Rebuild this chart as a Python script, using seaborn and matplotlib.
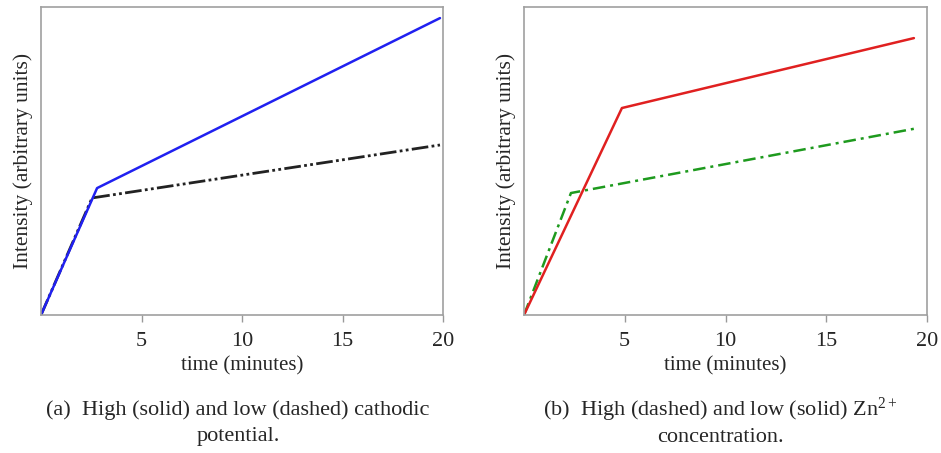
import matplotlib
matplotlib.use("Agg")
import matplotlib.pyplot as plt
import seaborn as sns
import pandas as pd

# Data (time in minutes, intensity in arbitrary units 0-100)
a_high_t = [0.0, 2.79, 19.85]
a_high_y = [0.0, 41.2, 96.4]
a_low_t = [0.0, 2.54, 19.85]
a_low_y = [0.0, 38.0, 55.2]

b_low_t = [0.0, 4.86, 19.35]
b_low_y = [0.0, 67.2, 89.9]
b_high_t = [0.0, 2.33, 19.55]
b_high_y = [0.0, 39.6, 60.7]

xticks = [5, 10, 15, 20]
xlabel = "time (minutes)"
ylabel = "Intensity (arbitrary units)"
cap_a = ["(a)  High (solid) and low (dashed) cathodic", "potential."]
cap_b = ["(b)  High (dashed) and low (solid) Zn$^{2+}$", "concentration."]

sns.set_style("white")
plt.rcParams["font.family"] = ["Liberation Serif", "DejaVu Serif"]
plt.rcParams["mathtext.fontset"] = "custom"
plt.rcParams["mathtext.rm"] = "Liberation Serif"
plt.rcParams["mathtext.it"] = "Liberation Serif:italic"

fig = plt.figure(figsize=(9.41, 4.53), dpi=100)
W, H = 941, 453
axA = fig.add_axes([41 / W, 1 - 315 / H, (443 - 41) / W, (315 - 7) / H])
axB = fig.add_axes([524 / W, 1 - 315 / H, (927 - 524) / W, (315 - 7) / H])

def df(t, y):
    return pd.DataFrame({"t": t, "y": y})

sns.lineplot(data=df(a_low_t, a_low_y), x="t", y="y", ax=axA, color="#222222",
             lw=2.0, linestyle=(0, (6, 1.2, 1, 1.2, 1, 1.2)))
sns.lineplot(data=df(a_high_t, a_high_y), x="t", y="y", ax=axA, color="#2020f0", lw=1.8)

sns.lineplot(data=df(b_high_t, b_high_y), x="t", y="y", ax=axB, color="#1e9a1e",
             lw=1.8, linestyle=(0, (5, 2, 1.2, 2)))
sns.lineplot(data=df(b_low_t, b_low_y), x="t", y="y", ax=axB, color="#e02020", lw=1.8)

for ax in (axA, axB):
    ax.set_xlim(0, 20)
    ax.set_ylim(0, 100)
    ax.set_xticks(xticks)
    ax.set_xticklabels([str(v) for v in xticks], fontsize=16)
    ax.set_yticks([])
    ax.tick_params(axis="x", length=5, width=1, color="#999999", direction="out", pad=7, bottom=True)
    for s in ax.spines.values():
        s.set_color("#a0a0a0")
        s.set_linewidth(1.2)
    ax.set_xlabel(xlabel, fontsize=15, labelpad=4)
    ax.set_ylabel(ylabel, fontsize=15.5, labelpad=6)

fs = 16
fig.text(238 / W, 1 - 410 / H, cap_a[0], ha="center", va="center", fontsize=fs)
fig.text(238 / W, 1 - 437 / H, cap_a[1], ha="center", va="center", fontsize=fs)
fig.text(720 / W, 1 - 410 / H, cap_b[0], ha="center", va="center", fontsize=fs)
fig.text(720 / W, 1 - 437 / H, cap_b[1], ha="center", va="center", fontsize=fs)

fig.savefig("out.png", dpi=100)
